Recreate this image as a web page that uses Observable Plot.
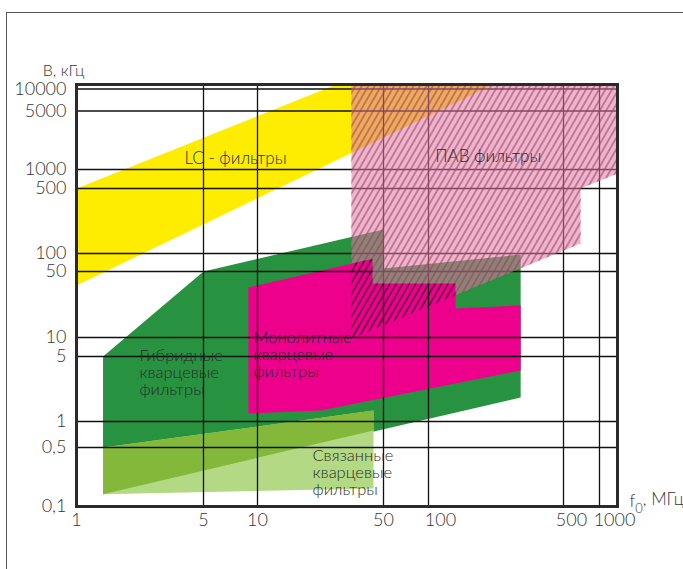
<!DOCTYPE html>
<html>
<head>
<meta charset="utf-8">
<script src="https://cdn.jsdelivr.net/npm/d3@7"></script>
<script src="https://cdn.jsdelivr.net/npm/@observablehq/plot@0.6"></script>
<style>
  body { margin: 0; background: #fff; }
  #wrap { position: relative; width: 683px; height: 569px; overflow: hidden; }
  #outer { position: absolute; left: 6px; top: 12px; width: 700px; height: 600px;
           border-top: 1px solid #555; border-left: 1px solid #555; pointer-events: none; }
  svg { display: block; }
</style>
</head>
<body>
<div id="wrap"><div id="chart"></div><div id="outer"></div></div>
<script>
// ---- axes: ticks and labels ----
const xTicks = [1, 5, 10, 50, 100, 500, 1000];
const xTickLabels = ["1", "5", "10", "50", "100", "500", "1000"];
const yTicks = [0.1, 0.5, 1, 5, 10, 50, 100, 500, 1000, 5000, 10000];
const yTickLabels = ["0,1", "0,5", "1", "5", "10", "50", "100", "500", "1000", "5000", "10000"];

// ---- regions: [f0 (MHz), B (kHz)] ----
const lcFilters = [[1, 500], [27.4, 11520], [217, 11520], [1, 35.5]];
const hybridFilters = [[1.4, 5], [5, 50], [50, 181], [50, 56], [300, 96], [300, 1.81], [1.4, 0.14]];
const coupledFilters = [[1.4, 0.5], [44, 1.31], [44, 0.163], [1.4, 0.14]];
const coupledHybridPart = [[1.4, 0.5], [44, 1.31], [44, 0.787], [1.4, 0.14]];
const monolithicFilters = [[8.9, 33.8], [43.5, 82], [43.5, 37.3], [138, 37.3], [138, 20.3], [300, 21.8], [300, 3.54], [22.4, 1.31], [8.9, 1.22]];
const pavFilters = [[33.2, 11520], [1414, 11520], [1414, 864], [694, 500], [694, 128], [33.2, 9.64]];
const pavOutsideMonolithic = [[33.2, 11520], [1414, 11520], [1414, 864], [694, 500], [694, 128], [138, 28], [138, 37.3], [43.5, 37.3], [43.5, 82], [33.2, 68.3]];

// ---- region labels ----
const centeredLabels = [
  {f: 7.54, b: 1353, text: "LC - фильтры"},
  {f: 204, b: 1430, text: "ПАВ фильтры"}
];
const blockLabels = [
  {f: 2.22, b: 3.36, text: "Гибридные\nкварцевые\nфильтры"},
  {f: 9.5, b: 5.38, text: "Монолитные\nкварцевые\nфильтры"},
  {f: 20.2, b: 0.253, text: "Связанные\nкварцевые\nфильтры"}
];

const px = d => d[0], py = d => d[1];
const poly = (data, fill, extra = {}) =>
  Plot.line(data, {x: px, y: py, fill, stroke: "none", clip: true, ...extra});
const xLabel = (filter, dx) =>
  Plot.text(xTicks, {filter, x: d => d, text: (d, i) => xTickLabels[i], frameAnchor: "bottom", lineAnchor: "top", dy: 7, dx, fill: "#333"});

const chart = Plot.plot({
  width: 683,
  height: 569,
  marginLeft: 76,
  marginRight: 66,
  marginTop: 84,
  marginBottom: 63,
  style: {fontFamily: "Lato, 'Liberation Sans', sans-serif", fontSize: "18px", fontWeight: 300, color: "#333", background: "transparent"},
  x: {
    type: "log",
    domain: xTicks,
    range: [76, 203, 257, 383, 428, 563, 599],
    axis: null
  },
  y: {
    type: "log",
    domain: yTicks,
    range: [506, 447, 421, 356, 337, 271, 253, 188, 169, 110.5, 88.5],
    axis: null
  },
  marks: [
    poly(lcFilters, "#FFED00"),
    poly(hybridFilters, "#27923F"),
    poly(coupledFilters, "#B4D985"),
    poly(coupledHybridPart, "#84B83A"),
    poly(monolithicFilters, "#EC008C"),
    Plot.ruleY(yTicks.filter(d => d > 0.1), {stroke: "#111", strokeWidth: 1.3}),
    Plot.ruleX(xTicks.filter(d => d > 1), {stroke: "#111", strokeWidth: 1.3}),
    poly(pavFilters, "url(#pavHatch)"),
    poly(pavOutsideMonolithic, "#E773A2", {fillOpacity: 0.55}),
    Plot.frame({stroke: "#2a2a2a", strokeWidth: 3}),
    // tick labels
    xLabel(d => d < 100, 0),
    xLabel(d => d === 100, 12),
    xLabel(d => d === 500, 8),
    xLabel(d => d === 1000, 15),
    Plot.text(yTicks, {y: d => d, text: (d, i) => yTickLabels[i], frameAnchor: "left", textAnchor: "end", lineAnchor: "middle", dx: -10, fill: "#333"}),
    // region labels
    Plot.text(centeredLabels, {x: "f", y: "b", text: "text", textAnchor: "middle", lineAnchor: "middle", fontSize: 17, fill: "#2a2a2a"}),
    Plot.text(blockLabels, {x: "f", y: "b", text: "text", textAnchor: "start", lineAnchor: "middle", lineHeight: 1.03, fontSize: 16.5, fill: "#2a2a2a"}),
    // axis titles
    Plot.text(["В, кГц"], {frameAnchor: "top-left", dx: 8, dy: -14, textAnchor: "end", lineAnchor: "middle", fontSize: 16, fill: "#333"}),
    Plot.text(["f0, МГц"], {frameAnchor: "bottom-right", dx: 12, dy: -5, textAnchor: "start", lineAnchor: "middle", fontSize: 17, fill: "#333"})
  ]
});

// hatch pattern for the SAW (ПАВ) region
const ns = "http://www.w3.org/2000/svg";
const defs = document.createElementNS(ns, "defs");
defs.innerHTML = '<pattern id="pavHatch" patternUnits="userSpaceOnUse" width="5.6" height="5.6" patternTransform="rotate(30)">' +
  '<line x1="2.8" y1="-1" x2="2.8" y2="7" stroke="#111" stroke-width="1"/></pattern>';
chart.insertBefore(defs, chart.firstChild);

// subscript for f0
chart.querySelectorAll("text").forEach(t => {
  if (t.textContent === "f0, МГц") {
    t.textContent = "";
    const a = document.createElementNS(ns, "tspan"); a.textContent = "f";
    const b = document.createElementNS(ns, "tspan"); b.textContent = "0";
    b.setAttribute("dy", "0.45em"); b.setAttribute("font-size", "13");
    const c = document.createElementNS(ns, "tspan"); c.textContent = ", МГц";
    c.setAttribute("dy", "-0.45em");
    t.append(a, b, c);
  }
});

document.getElementById("chart").appendChild(chart);
</script>
</body>
</html>
